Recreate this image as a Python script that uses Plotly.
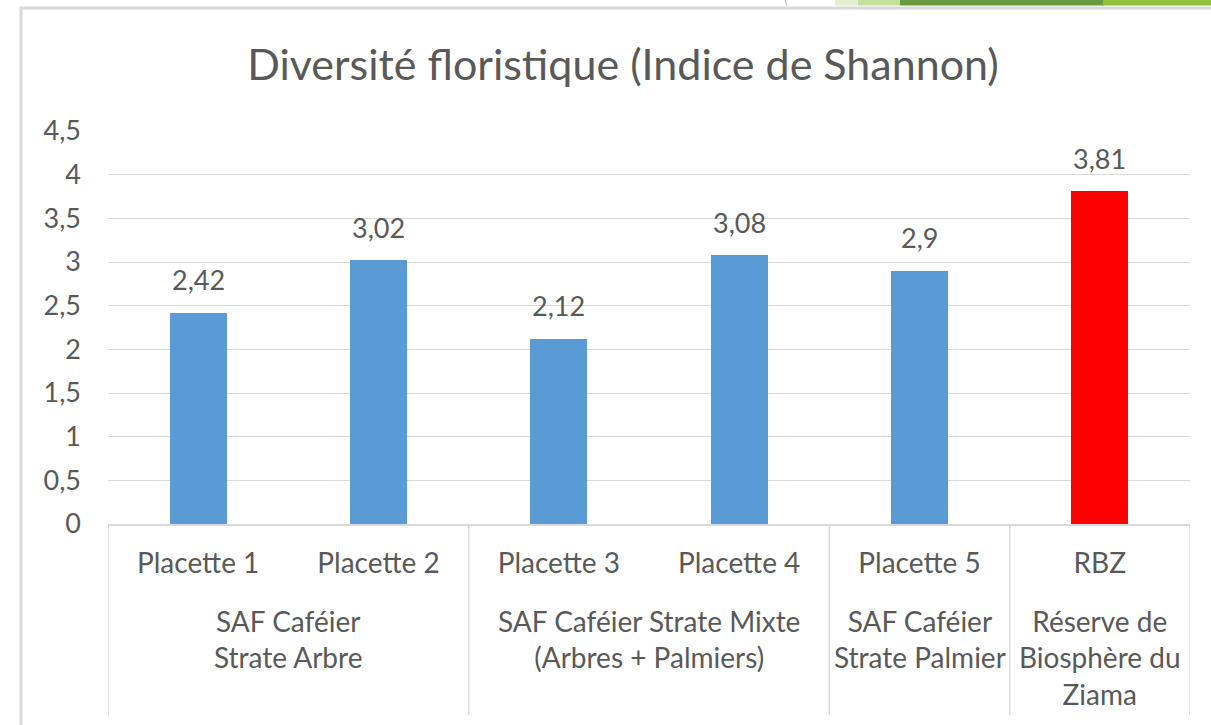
import plotly.graph_objects as go

# ---- data ----
placettes = ["Placette 1", "Placette 2", "Placette 3", "Placette 4", "Placette 5", "RBZ"]
shannon = [2.42, 3.02, 2.12, 3.08, 2.9, 3.81]
bar_colors = ["#5b9bd5", "#5b9bd5", "#5b9bd5", "#5b9bd5", "#5b9bd5", "#ff0000"]
groups = [
    "SAF Caféier<br>Strate Arbre",
    "SAF Caféier Strate Mixte<br>(Arbres + Palmiers)",
    "SAF Caféier<br>Strate Palmier",
    "Réserve de<br>Biosphère du<br>Ziama",
]
group_members = [[0, 1], [2, 3], [4], [5]]
y_ticks = [0, 0.5, 1, 1.5, 2, 2.5, 3, 3.5, 4, 4.5]
title = "Diversité floristique (Indice de Shannon)"

# ---- layout geometry (pixels) ----
W, H = 1211, 725
L, R, T, B = 108, 21, 131, 201
PW, PH = W - L - R, H - T - B
FONT = "Lato, 'Open Sans', sans-serif"
GREY_TXT = "#595959"
GREY_LINE = "#d9d9d9"


def px_x(px):
    return (px - L) / PW


def px_y(py):
    return (H - B - py) / PH


fig = go.Figure()
fig.add_trace(go.Bar(
    x=placettes, y=shannon, marker=dict(color=bar_colors, line=dict(width=0)),
    width=0.316, hoverinfo="skip",
))

# value labels
for cat, v in zip(placettes, shannon):
    fig.add_annotation(
        x=cat, y=v, xref="x", yref="y", text=f"{v:g}".replace(".", ","),
        showarrow=False, yanchor="middle", yshift=33,
        font=dict(family=FONT, size=27, color=GREY_TXT),
    )

# group labels
for g, members in zip(groups, group_members):
    fig.add_annotation(
        x=sum(members) / len(members), y=0, xref="x", yref="paper",
        text=g, showarrow=False, yanchor="top", yshift=-78,
        font=dict(family=FONT, size=28, color=GREY_TXT),
    )

shapes = []
# group dividers
bounds = [-0.5] + [m[-1] + 0.5 for m in group_members]
for b in bounds:
    shapes.append(dict(type="line", xref="x", yref="paper", x0=b, x1=b,
                       y0=0, y1=px_y(715), line=dict(color=GREY_LINE, width=1.5)))
# chart frame
shapes.append(dict(type="rect", xref="paper", yref="paper",
                   x0=px_x(21), x1=px_x(1225), y0=px_y(8), y1=px_y(740),
                   line=dict(color=GREY_LINE, width=3), layer="below"))
# decorative strips top-right
for x0, x1, c in [(835, 860, "#e3edcf"), (858, 900, "#c5e09b"),
                  (900, 1104, "#6a9a3e"), (1103, 1215, "#92c13b")]:
    shapes.append(dict(type="rect", xref="paper", yref="paper",
                       x0=px_x(x0), x1=px_x(x1), y0=px_y(-2), y1=px_y(5.5),
                       line=dict(width=0), fillcolor=c))
shapes.append(dict(type="line", xref="paper", yref="paper",
                   x0=px_x(785), x1=px_x(787), y0=px_y(0), y1=px_y(6),
                   line=dict(color="#bfbfbf", width=1)))

fig.update_layout(
    width=W, height=H,
    margin=dict(l=L, r=R, t=T, b=B),
    paper_bgcolor="white", plot_bgcolor="white",
    separators=", ",
    showlegend=False,
    title=dict(text=title, x=623 / W, xref="container", xanchor="center",
               y=1 - 65 / H, yref="container", yanchor="middle",
               font=dict(family=FONT, size=43, color=GREY_TXT)),
    xaxis=dict(type="category", range=[-0.5, 5.5], showgrid=False,
               showline=True, linecolor=GREY_LINE, linewidth=1.5,
               ticks="", ticklabelstandoff=14,
               tickfont=dict(family=FONT, size=28, color=GREY_TXT)),
    yaxis=dict(range=[0, 4.5], tickvals=y_ticks,
               ticktext=[f"{t:g}".replace(".", ",") for t in y_ticks],
               showgrid=True, gridcolor=GREY_LINE, gridwidth=1.2,
               zeroline=False, showline=False, ticks="", ticklabelstandoff=26,
               tickfont=dict(family=FONT, size=27, color=GREY_TXT)),
    shapes=shapes,
    bargap=0,
)

fig.write_html(
    "out.html",
    config={"displayModeBar": False},
    post_script="document.body.style.margin='0';document.body.style.overflow='hidden';",
)
